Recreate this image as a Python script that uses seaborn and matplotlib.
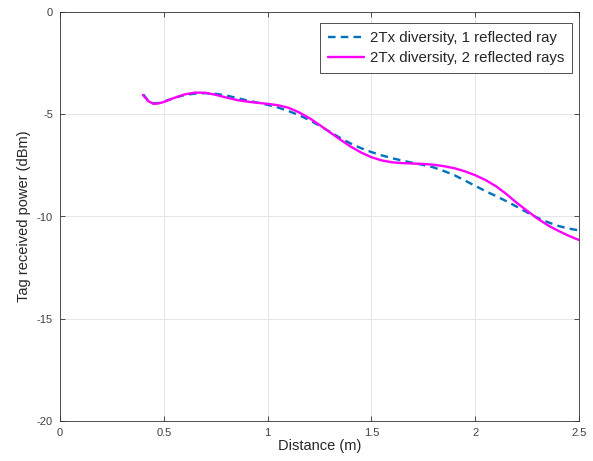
import matplotlib
matplotlib.use("Agg")
import matplotlib.pyplot as plt
import seaborn as sns
import pandas as pd

distance = [0.40, 0.425, 0.45, 0.475, 0.50, 0.55, 0.60, 0.65, 0.70, 0.75, 0.80, 0.85,
            0.90, 0.95, 1.00, 1.05, 1.10, 1.15, 1.20, 1.25, 1.30, 1.35,
            1.40, 1.45, 1.50, 1.55, 1.60, 1.65, 1.70, 1.75, 1.80, 1.85,
            1.90, 1.95, 2.00, 2.05, 2.10, 2.15, 2.20, 2.25, 2.30, 2.35,
            2.40, 2.45, 2.50]

one_ray = [-4.02, -4.33, -4.46, -4.45, -4.38, -4.20, -4.06, -3.99, -3.97, -4.00, -4.08, -4.20,
           -4.32, -4.43, -4.54, -4.67, -4.84, -5.04, -5.28, -5.56, -5.86, -6.16,
           -6.43, -6.66, -6.85, -7.01, -7.15, -7.27, -7.38, -7.48, -7.60, -7.78,
           -7.98, -8.24, -8.50, -8.76, -9.00, -9.25, -9.52, -9.80, -10.06, -10.28,
           -10.46, -10.59, -10.68]

two_rays = [-4.06, -4.36, -4.49, -4.47, -4.40, -4.20, -4.03, -3.94, -3.95, -4.05, -4.18, -4.30,
            -4.38, -4.44, -4.49, -4.56, -4.68, -4.90, -5.18, -5.52, -5.88, -6.24,
            -6.58, -6.87, -7.10, -7.26, -7.35, -7.39, -7.41, -7.43, -7.47, -7.54,
            -7.64, -7.79, -7.98, -8.22, -8.52, -8.90, -9.33, -9.72, -10.10, -10.43,
            -10.70, -10.94, -11.15]

labels = ["2Tx diversity, 1 reflected ray", "2Tx diversity, 2 reflected rays"]
x_ticks = [0, 0.5, 1, 1.5, 2, 2.5]
x_tick_labels = ["0", "0.5", "1", "1.5", "2", "2.5"]
y_ticks = [-20, -15, -10, -5, 0]
y_tick_labels = ["-20", "-15", "-10", "-5", "0"]

df = pd.DataFrame({
    "Distance": distance * 2,
    "Power": one_ray + two_rays,
    "Series": [labels[0]] * len(distance) + [labels[1]] * len(distance),
})

sns.set_style("white")
plt.rcParams["font.family"] = ["Liberation Sans", "DejaVu Sans"]
plt.rcParams["axes.unicode_minus"] = False

fig = plt.figure(figsize=(5.93, 4.61), dpi=100)
ax = fig.add_axes([60 / 593, 1 - 421 / 461, 519 / 593, 409 / 461])

sns.lineplot(data=df, x="Distance", y="Power", hue="Series", style="Series",
             palette={labels[0]: "#0072BD", labels[1]: "#FF00FF"},
             dashes={labels[0]: (3.2, 2.2), labels[1]: ""},
             linewidth=1.7, ax=ax, sort=False)

ax.set_xlim(0, 2.5)
ax.set_ylim(-20, 0)
ax.set_xticks(x_ticks)
ax.set_xticklabels(x_tick_labels)
ax.set_yticks(y_ticks)
ax.set_yticklabels(y_tick_labels)
ax.grid(True, color="#e6e6e6", linewidth=0.7)
ax.set_axisbelow(True)
for s in ax.spines.values():
    s.set_color("#333333")
    s.set_linewidth(0.6)
    s.set_visible(True)
ax.tick_params(direction="in", length=3.5, width=0.6, colors="#333333",
               labelsize=8, labelcolor="#404040", top=True, right=True,
               bottom=True, left=True, pad=5)
ax.set_xlabel("Distance (m)", fontsize=10.5, color="#262626", labelpad=1)
ax.set_ylabel("Tag received power (dBm)", fontsize=10.5, color="#262626", labelpad=4)

leg = ax.legend(loc="upper right", bbox_to_anchor=(0.986, 0.972), fontsize=10.8,
                frameon=True, fancybox=False, framealpha=1, edgecolor="#333333",
                handlelength=2.4, handletextpad=0.4, borderpad=0.5,
                labelspacing=0.42, borderaxespad=0)
leg.get_frame().set_linewidth(0.6)
for t in leg.get_texts():
    t.set_color("#262626")

fig.savefig("out.png", dpi=100)
